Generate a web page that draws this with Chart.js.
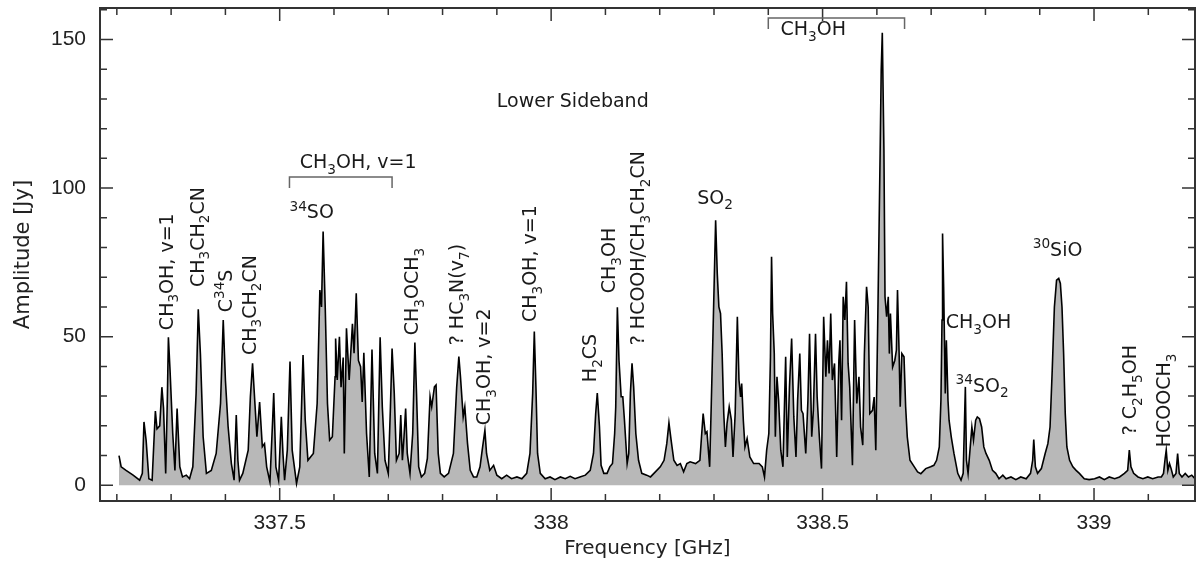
<!DOCTYPE html>
<html>
<head>
<meta charset="utf-8">
<script src="https://cdn.jsdelivr.net/npm/chart.js@4.4.1/dist/chart.umd.min.js"></script>
<style>
  html, body { margin: 0; padding: 0; background: #fff; }
</style>
</head>
<body>
<canvas id="spectrum" width="1196" height="565"></canvas>
<script>
'use strict';

// Spectrum: frequency [GHz] and amplitude [Jy]
const freqGHz = [
  337.204, 337.208, 337.217, 337.230, 337.242, 337.247, 337.250, 337.254, 337.259, 337.265,
  337.269, 337.271, 337.274, 337.279, 337.283, 337.286, 337.290, 337.293, 337.295, 337.298,
  337.303, 337.307, 337.311, 337.316, 337.321, 337.328, 337.334, 337.340, 337.346, 337.350,
  337.354, 337.359, 337.365, 337.374, 337.383, 337.391, 337.396, 337.400, 337.405, 337.411,
  337.416, 337.420, 337.423, 337.426, 337.432, 337.442, 337.446, 337.450, 337.454, 337.458,
  337.463, 337.468, 337.472, 337.476, 337.482, 337.487, 337.489, 337.493, 337.498, 337.503,
  337.506, 337.509, 337.514, 337.519, 337.523, 337.531, 337.537, 337.543, 337.547, 337.552,
  337.562, 337.569, 337.574, 337.577, 337.580, 337.584, 337.588, 337.592, 337.597, 337.602,
  337.603, 337.606, 337.610, 337.613, 337.617, 337.619, 337.623, 337.628, 337.634, 337.637,
  337.641, 337.645, 337.649, 337.652, 337.655, 337.660, 337.665, 337.670, 337.675, 337.680,
  337.685, 337.689, 337.694, 337.700, 337.704, 337.707, 337.711, 337.715, 337.720, 337.723,
  337.726, 337.729, 337.732, 337.735, 337.740, 337.745, 337.749, 337.752, 337.756, 337.761,
  337.767, 337.772, 337.777, 337.780, 337.785, 337.788, 337.792, 337.796, 337.803, 337.811,
  337.820, 337.826, 337.830, 337.833, 337.838, 337.841, 337.846, 337.851, 337.857, 337.863,
  337.869, 337.873, 337.878, 337.881, 337.887, 337.894, 337.900, 337.909, 337.918, 337.927,
  337.937, 337.946, 337.955, 337.961, 337.966, 337.969, 337.972, 337.975, 337.980, 337.989,
  337.998, 338.007, 338.017, 338.026, 338.035, 338.044, 338.053, 338.063, 338.072, 338.078,
  338.082, 338.085, 338.089, 338.092, 338.097, 338.103, 338.108, 338.113, 338.117, 338.119,
  338.122, 338.125, 338.129, 338.132, 338.135, 338.140, 338.143, 338.146, 338.149, 338.152,
  338.156, 338.161, 338.167, 338.176, 338.183, 338.192, 338.201, 338.208, 338.213, 338.217,
  338.221, 338.226, 338.232, 338.238, 338.244, 338.250, 338.256, 338.266, 338.274, 338.277,
  338.280, 338.284, 338.287, 338.292, 338.295, 338.298, 338.303, 338.306, 338.309, 338.312,
  338.315, 338.318, 338.321, 338.324, 338.328, 338.332, 338.335, 338.339, 338.343, 338.346,
  338.349, 338.351, 338.354, 338.357, 338.361, 338.366, 338.373, 338.383, 338.389, 338.393,
  338.397, 338.401, 338.404, 338.406, 338.408, 338.411, 338.413, 338.416, 338.419, 338.423,
  338.427, 338.432, 338.435, 338.439, 338.443, 338.447, 338.451, 338.454, 338.458, 338.461,
  338.464, 338.469, 338.473, 338.476, 338.480, 338.483, 338.487, 338.490, 338.494, 338.498,
  338.502, 338.506, 338.509, 338.512, 338.515, 338.518, 338.522, 338.526, 338.530, 338.532,
  338.535, 338.538, 338.541, 338.544, 338.547, 338.550, 338.555, 338.559, 338.563, 338.567,
  338.570, 338.574, 338.577, 338.581, 338.584, 338.587, 338.592, 338.595, 338.598, 338.602,
  338.606, 338.608, 338.610, 338.613, 338.615, 338.618, 338.621, 338.623, 338.625, 338.629,
  338.633, 338.636, 338.638, 338.641, 338.643, 338.646, 338.650, 338.653, 338.656, 338.661,
  338.669, 338.675, 338.681, 338.690, 338.699, 338.705, 338.710, 338.715, 338.718, 338.720,
  338.721, 338.723, 338.726, 338.728, 338.731, 338.733, 338.737, 338.742, 338.749, 338.755,
  338.759, 338.763, 338.765, 338.768, 338.772, 338.775, 338.778, 338.782, 338.785, 338.789,
  338.793, 338.797, 338.801, 338.807, 338.813, 338.819, 338.825, 338.832, 338.838, 338.847,
  338.856, 338.865, 338.875, 338.883, 338.887, 338.889, 338.892, 338.896, 338.903, 338.910,
  338.915, 338.919, 338.923, 338.927, 338.931, 338.935, 338.938, 338.941, 338.944, 338.947,
  338.950, 338.955, 338.961, 338.967, 338.973, 338.982, 338.991, 339.001, 339.010, 339.019,
  339.028, 339.038, 339.047, 339.056, 339.062, 339.065, 339.068, 339.073, 339.081, 339.090,
  339.099, 339.108, 339.118, 339.124, 339.128, 339.131, 339.133, 339.136, 339.139, 339.142,
  339.146, 339.151, 339.154, 339.157, 339.162, 339.168, 339.174, 339.180, 339.186
];

const amplitudeJy = [
  10, 6.2, 5, 3.4, 1.7, 4, 21.3, 15, 2.2, 1.7,
  17.4, 25, 19, 20, 33, 26, 4, 28.6, 49.8, 38.8,
  17.4, 5, 25.8, 6.2, 2.8, 3.4, 2.2, 6.2, 30.9, 59.2,
  44, 16.3, 4, 5, 10.7, 27.5, 55.6, 35.4, 19.7, 7.3,
  1.7, 23.6, 8.4, 1.7, 4, 11.8, 29.8, 41, 28.6, 16.3,
  28, 13, 14, 6.2, 1.1, 21.9, 31, 6.2, 1.7, 23,
  10.7, 1.7, 11.8, 41.6, 11.8, 0.6, 6.2, 43.8, 22, 8.4,
  10.7, 27.5, 65.7, 60, 85.4, 59, 27.5, 15.2, 16.3, 36.5,
  49.4, 35.4, 50, 33, 43, 10.7, 52.8, 35.4, 54.3, 44.4,
  64.6, 42, 39.9, 28, 44.6, 17.4, 2.8, 45.7, 10.7, 4,
  49.8, 26.4, 8.4, 4, 26.4, 46, 31, 8.4, 10.7, 23.6,
  8.4, 16.3, 25.8, 10.7, 4, 17.4, 48, 31, 6.2, 2.8,
  4, 9, 29.8, 26.4, 33.1, 33.7, 10.7, 4, 2.8, 4,
  10.7, 33, 43.3, 36.5, 23, 26.4, 14, 5, 2.8, 2.8,
  6.2, 11.8, 18.5, 10.7, 5, 6.7, 3.4, 2.2, 3.4, 2.2,
  2.8, 2.2, 4, 10.7, 31, 51.7, 33, 10.7, 4, 2.2,
  2.8, 1.9, 2.8, 2.2, 3, 2.2, 2.8, 3.4, 5, 10.7,
  24, 31, 19.7, 6.7, 4, 4, 6.2, 7.3, 17.4, 26.4,
  59.9, 42, 29.8, 29.8, 22, 7.3, 10.7, 31, 41, 33.1,
  17.4, 8.4, 4, 3.4, 2.8, 4.5, 6.2, 8.4, 14, 21,
  15.2, 8.4, 6.7, 7.3, 4.5, 7.3, 7.9, 7.3, 8.4, 16.3,
  24.1, 17.4, 18, 6.2, 27.5, 50, 89.2, 71.3, 60, 57.8,
  44.3, 24.1, 12.9, 20.8, 26.4, 21.9, 9.5, 24.1, 56.7, 35.4,
  29.7, 34.2, 21.9, 12.9, 15.7, 9.5, 7.3, 7.3, 6.2, 2.8,
  11.8, 17.4, 43.2, 76.9, 57.8, 44.3, 16.3, 36.5, 28.6, 11.8,
  6.2, 43.2, 9.5, 33.1, 49.4, 23, 9.5, 28.6, 44.3, 25.2,
  24.1, 10.7, 28.6, 51, 16.3, 25.2, 51, 29.7, 16.3, 5.6,
  56.7, 36.5, 48.8, 37.6, 57.8, 35.4, 41, 9.5, 42, 48.8,
  21.9, 63.4, 55.6, 68.5, 41, 33.1, 6.7, 55.6, 27.5, 36.5,
  19.6, 13.5, 44.3, 66.8, 60, 24.1, 25.2, 29.7, 11.8, 60,
  111.7, 139.7, 152.3, 112.8, 63.4, 56.7, 63.4, 44.3, 57.8, 39.8,
  42, 45.5, 65.7, 44.3, 26.4, 44.3, 43.2, 26.4, 16.3, 8.4,
  6.2, 4.5, 3.9, 5.6, 6.2, 6.7, 8.4, 12.9, 28.6, 55.6,
  84.7, 66.8, 30.9, 48.8, 28.6, 21.9, 16.3, 10.7, 4, 1.7,
  4, 33.1, 8.4, 4, 12.9, 19.6, 15.2, 21.9, 23, 22.4,
  19.6, 12.9, 10.7, 8.4, 5, 4, 2.2, 3.4, 2.2, 2.8,
  1.9, 2.8, 2.2, 4, 8.4, 15.4, 6.2, 4, 5.6, 10.7,
  14, 19.6, 38.7, 60, 69, 69.6, 67.9, 60, 44.3, 24.1,
  12.9, 8.4, 6.2, 5, 4, 2.2, 1.9, 2.2, 2.8, 1.9,
  2.8, 2.2, 2.8, 4, 5, 11.8, 6.2, 4, 2.8, 2.2,
  2.8, 2.2, 2.8, 2.8, 4, 9, 11.8, 5, 7.3, 5.6,
  2.8, 4, 10.7, 4, 2.8, 4, 2.8, 3.4, 2.2
];

// Axis ticks
const xMajorTicks = [337.5, 338, 338.5, 339];
const xMinorTicks = [337.2, 337.3, 337.4, 337.6, 337.7, 337.8, 337.9, 338.1, 338.2, 338.3,
  338.4, 338.6, 338.7, 338.8, 338.9, 339.1];
const yMajorTicks = [0, 50, 100, 150];
const yMinorTicks = [10, 20, 30, 40, 60, 70, 80, 90, 110, 120, 130, 140, 160];

// Line identifications: "_" = subscript, "^" = superscript.
// Horizontal labels are anchored at their left edge, rotated ones at their bottom.
const lineLabels = [
  { text: 'Lower Sideband', freq: 337.900, amp: 129.6, rotated: false },
  { text: 'CH_3OH, v=1', freq: 337.537, amp: 109.1, rotated: false },
  { text: '^{34}SO', freq: 337.518, amp: 92.1, rotated: false },
  { text: 'SO_2', freq: 338.269, amp: 97.1, rotated: false },
  { text: 'CH_3OH', freq: 338.4225, amp: 153.9, rotated: false },
  { text: 'CH_3OH', freq: 338.727, amp: 55.1, rotated: false },
  { text: '^{34}SO_2', freq: 338.745, amp: 33.8, rotated: false },
  { text: '^{30}SiO', freq: 338.887, amp: 79.6, rotated: false },
  { text: 'CH_3OH, v=1', freq: 337.290, amp: 52.2, rotated: true },
  { text: 'CH_3CH_2CN', freq: 337.347, amp: 66.7, rotated: true },
  { text: 'C^{34}S', freq: 337.399, amp: 58.2, rotated: true },
  { text: 'CH_3CH_2CN', freq: 337.443, amp: 43.8, rotated: true },
  { text: 'CH_3OCH_3', freq: 337.742, amp: 50.5, rotated: true },
  { text: '? HC_3N(v_7)', freq: 337.825, amp: 47.1, rotated: true },
  { text: 'CH_3OH, v=2', freq: 337.875, amp: 20.2, rotated: true },
  { text: 'CH_3OH, v=1', freq: 337.959, amp: 54.9, rotated: true },
  { text: 'H_2CS', freq: 338.070, amp: 34.7, rotated: true },
  { text: 'CH_3OH', freq: 338.105, amp: 64.6, rotated: true },
  { text: '? HCOOH/CH_3CH_2CN', freq: 338.159, amp: 47.1, rotated: true },
  { text: '? C_2H_5OH', freq: 339.065, amp: 16.8, rotated: true },
  { text: 'HCOOCH_3', freq: 339.127, amp: 12.8, rotated: true }
];

// Brackets grouping a band of lines
const brackets = [
  { from: 337.518, to: 337.707, amp: 103.7, tickTo: 100.0 },
  { from: 338.400, to: 338.651, amp: 157.2, tickTo: 153.5 }
];

const TEXT_FONT = '"DejaVu Sans", sans-serif';
const TICK_FONT = '"Liberation Sans", Arial, sans-serif';

/**
 * Split a label into normal / subscript / superscript runs
 */
function parseRich(str) {
  const segs = [];
  let buf = '';
  let i = 0;
  while (i < str.length) {
    const c = str[i];
    if (c === '_' || c === '^') {
      if (buf) {
        segs.push({ t: buf, mode: 0 });
        buf = '';
      }
      let t;
      if (str[i + 1] === '{') {
        const j = str.indexOf('}', i + 2);
        t = str.slice(i + 2, j);
        i = j + 1;
      } else {
        t = str[i + 1];
        i += 2;
      }
      segs.push({ t, mode: c === '_' ? 1 : 2 });
    } else {
      buf += c;
      i++;
    }
  }
  if (buf) segs.push({ t: buf, mode: 0 });
  return segs;
}

function drawRich(ctx, str, px, py, rotated, size) {
  ctx.save();
  ctx.translate(px, py);
  if (rotated) ctx.rotate(-Math.PI / 2);
  ctx.textAlign = 'left';
  ctx.textBaseline = 'alphabetic';
  const base = size * 0.365; // puts the middle of the capitals on the anchor
  let cx = 0;
  parseRich(str).forEach((s) => {
    const fs = s.mode ? size * 0.72 : size;
    ctx.font = `${fs}px ${TEXT_FONT}`;
    let dy = 0;
    if (s.mode === 1) dy = size * 0.3;
    if (s.mode === 2) dy = -size * 0.42;
    ctx.fillText(s.t, cx, base + dy);
    cx += ctx.measureText(s.t).width;
  });
  ctx.restore();
}

// Inward ticks, frame, brackets and line identifications
const spectrumDecor = {
  id: 'spectrumDecor',
  afterDatasetsDraw(chart) {
    const { ctx, chartArea: a, scales: { x, y } } = chart;
    ctx.save();

    ctx.strokeStyle = '#333';
    ctx.lineWidth = 1.5;
    ctx.beginPath();
    const xTick = (v, len) => {
      const px = x.getPixelForValue(v);
      ctx.moveTo(px, a.bottom);
      ctx.lineTo(px, a.bottom - len);
      ctx.moveTo(px, a.top);
      ctx.lineTo(px, a.top + len);
    };
    const yTick = (v, len) => {
      const py = y.getPixelForValue(v);
      ctx.moveTo(a.left, py);
      ctx.lineTo(a.left + len, py);
      ctx.moveTo(a.right, py);
      ctx.lineTo(a.right - len, py);
    };
    xMajorTicks.forEach((v) => xTick(v, 13));
    xMinorTicks.forEach((v) => xTick(v, 7));
    yMajorTicks.forEach((v) => yTick(v, 13));
    yMinorTicks.forEach((v) => yTick(v, 7));
    ctx.stroke();

    ctx.lineWidth = 2;
    ctx.strokeRect(a.left, a.top, a.right - a.left, a.bottom - a.top);

    // brackets
    ctx.strokeStyle = '#666';
    ctx.lineWidth = 1.5;
    brackets.forEach((b) => {
      const x0 = x.getPixelForValue(b.from);
      const x1 = x.getPixelForValue(b.to);
      const yl = y.getPixelForValue(b.amp);
      const yt = y.getPixelForValue(b.tickTo);
      ctx.beginPath();
      ctx.moveTo(x0, yt);
      ctx.lineTo(x0, yl);
      ctx.lineTo(x1, yl);
      ctx.lineTo(x1, yt);
      ctx.stroke();
    });

    // labels
    ctx.fillStyle = '#1a1a1a';
    lineLabels.forEach((l) => {
      drawRich(ctx, l.text, x.getPixelForValue(l.freq), y.getPixelForValue(l.amp), l.rotated, 19);
    });

    ctx.restore();
  }
};

const points = freqGHz.map((f, i) => ({ x: f, y: amplitudeJy[i] }));

new Chart(document.getElementById('spectrum'), {
  type: 'line',
  data: {
    datasets: [
      {
        data: points,
        borderColor: '#000',
        backgroundColor: '#b8b8b8',
        borderWidth: 1.6,
        fill: 'origin',
        tension: 0,
        pointRadius: 0,
        pointHoverRadius: 0
      }
    ]
  },
  options: {
    responsive: false,
    devicePixelRatio: 1,
    animation: false,
    layout: { padding: { left: 0, right: 1, top: 8, bottom: 0 } },
    plugins: {
      legend: { display: false },
      tooltip: { enabled: false }
    },
    scales: {
      x: {
        type: 'linear',
        min: 337.169,
        max: 339.186,
        grid: { display: false, drawTicks: false },
        border: { display: false },
        afterBuildTicks: (s) => {
          s.ticks = xMajorTicks.map((v) => ({ value: v }));
        },
        afterFit: (s) => {
          s.height = 64;
          s.paddingLeft = 0;
          s.paddingRight = 0;
        },
        ticks: {
          padding: 10,
          autoSkip: false,
          maxRotation: 0,
          color: '#222',
          font: { family: TICK_FONT, size: 21 },
          callback: (v) => String(v)
        },
        title: {
          display: true,
          text: 'Frequency [GHz]',
          color: '#222',
          font: { family: TEXT_FONT, size: 20 },
          padding: { top: 0, bottom: 4 }
        }
      },
      y: {
        type: 'linear',
        min: -5.3,
        max: 160.6,
        grid: { display: false, drawTicks: false },
        border: { display: false },
        afterBuildTicks: (s) => {
          s.ticks = yMajorTicks.map((v) => ({ value: v }));
        },
        afterFit: (s) => {
          s.width = 100;
          s.paddingTop = 0;
          s.paddingBottom = 0;
        },
        ticks: {
          padding: 14,
          color: '#222',
          font: { family: TICK_FONT, size: 21 },
          callback: (v) => String(v)
        },
        title: {
          display: true,
          text: 'Amplitude [Jy]',
          color: '#222',
          font: { family: TEXT_FONT, size: 21 },
          padding: { top: 11, bottom: 0 }
        }
      }
    }
  },
  plugins: [spectrumDecor]
});
</script>
</body>
</html>
